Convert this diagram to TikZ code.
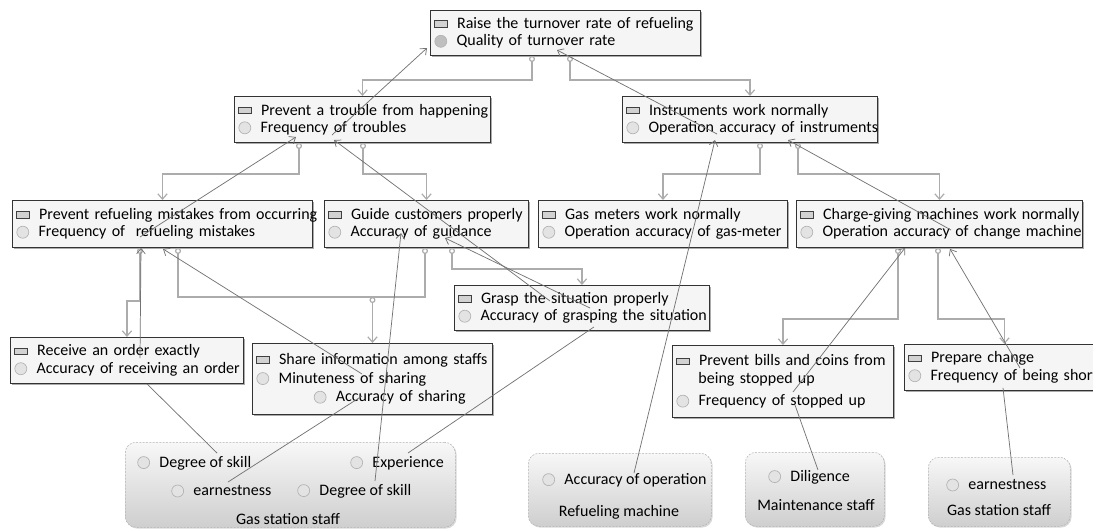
\documentclass[tikz,border=0pt]{standalone}
\usepackage{fontspec}
\setmainfont{Carlito}
\usetikzlibrary{arrows.meta,calc,shadows}

\newcommand{\goalicon}{\raisebox{0.8pt}{\begin{pgfpicture}
\pgfsetlinewidth{0.5pt}\pgfsetstrokecolor{black!75}\pgfsetfillcolor{gray!35}
\pgfpathrectangle{\pgfpointorigin}{\pgfpoint{9.5pt}{4.8pt}}
\pgfusepath{fill,stroke}\end{pgfpicture}}}
\newcommand{\metricicon}[1][gray!22]{\raisebox{-1.3pt}{\begin{pgfpicture}
\pgfsetlinewidth{0.5pt}\pgfsetstrokecolor{gray!60}\pgfsetfillcolor{#1}
\pgfpathcircle{\pgfpoint{4.7pt}{4.7pt}}{4.5pt}
\pgfusepath{fill,stroke}\end{pgfpicture}}}
\newcommand{\goal}[1]{\mbox{\goalicon\hspace{7pt}#1}}
\newcommand{\metric}[1]{\mbox{\metricicon\hspace{7.1pt}#1}}
\newcommand{\metricdark}[1]{\mbox{\metricicon[gray!50]\hspace{7.1pt}#1}}

\tikzset{
  kbox/.style={draw=black!80, line width=0.7pt, fill=gray!8, align=left,
    inner xsep=3pt, inner ysep=3pt, anchor=north west,
    drop shadow={shadow xshift=1.2pt, shadow yshift=-1.2pt, fill=black!55, opacity=0.6}},
  staffgroup/.style={draw=gray!60, dash pattern=on 1.5pt off 1pt, rounded corners=8pt,
    top color=gray!6, bottom color=gray!38, anchor=north west,
    drop shadow={shadow xshift=1pt, shadow yshift=-1pt, fill=black!30, opacity=0.5}},
  grpitem/.style={anchor=west, inner sep=0pt},
  treeedge/.style={draw=gray!65, line width=0.9pt,
    {Circle[open,length=4.5pt,fill=white]}-{Straight Barb[length=4pt,width=7pt]}},
  treebus/.style={draw=gray!65, line width=0.9pt, {Circle[open,length=4.5pt,fill=white]}-},
  metriclink/.style={draw=black!55, line width=0.55pt, -{Straight Barb[length=4pt,width=6.5pt]}},
  itemlink/.style={draw=black!55, line width=0.55pt}
}

\begin{document}
\begin{tikzpicture}[x=0.75pt, y=-0.75pt, font=\fontsize{12}{13}\selectfont]
\useasboundingbox (0,0) rectangle (1093,529);

% goals
\node[kbox, text width=196.5pt, minimum height=33.75pt] (top) at (430,10)
  {\goal{Raise the turnover rate of refueling}\\\metricdark{Quality of turnover rate}};

\node[kbox, text width=186pt, minimum height=34.5pt] (trouble) at (234,96)
  {\goal{Prevent a trouble from happening}\\\metric{Frequency of troubles}};
\node[kbox, text width=185.25pt, minimum height=34.5pt] (instr) at (622,96)
  {\goal{Instruments work normally}\\\metric{Operation accuracy of instruments}};

\node[kbox, text width=219pt, minimum height=35.25pt] (prevref) at (12,200)
  {\goal{Prevent refueling mistakes from occurring}\\\metric{Frequency of \ refueling mistakes}};
\node[kbox, text width=147pt, minimum height=35.25pt] (guide) at (324,200)
  {\goal{Guide customers properly}\\\metric{Accuracy of guidance}};
\node[kbox, text width=180.75pt, minimum height=35.25pt] (gasm) at (538,200)
  {\goal{Gas meters work normally}\\\metric{Operation accuracy of gas-meter}};
\node[kbox, text width=208.5pt, minimum height=35.25pt] (charge) at (796,200)
  {\goal{Charge-giving machines work normally}\\\metric{Operation accuracy of change machine}};

\node[kbox, text width=185.25pt, minimum height=33.75pt] (grasp) at (454,285)
  {\goal{Grasp the situation properly}\\\metric{Accuracy of grasping the situation}};
\node[kbox, text width=168.75pt, minimum height=34.5pt] (receive) at (10,337)
  {\goal{Receive an order exactly}\\\metric{Accuracy of receiving an order}};
\node[kbox, text width=174pt, minimum height=53.25pt] (share) at (252,343)
  {\goal{Share information among staffs}\\[1pt]\metric{Minuteness of sharing}\\[1pt]
   \hspace*{43pt}\metric{Accuracy of sharing}};
\node[kbox, text width=159.75pt, minimum height=54pt] (bills) at (672,345)
  {\goal{Prevent bills and coins from}\\\hspace*{16.5pt}being stopped up\\[4pt]
   \metric{Frequency of stopped up}};
\node[kbox, text width=144pt, minimum height=34.5pt] (prepare) at (904,344)
  {\goal{Prepare change}\\\metric{Frequency of being short}};

% staff groups
\node[staffgroup, minimum width=247.5pt, minimum height=63.75pt] (grpA) at (125,442) {};
\node[grpitem] (skillA) at (137,463) {\metric{Degree of skill}};
\node[grpitem] (expA) at (350,463) {\metric{Experience}};
\node[grpitem] (earnA) at (171,491) {\metric{earnestness}};
\node[grpitem] (skillB) at (297,491) {\metric{Degree of skill}};
\node (staffA) at (288,519) {Gas station staff};

\node[staffgroup, minimum width=137.25pt, minimum height=54.75pt] (grpB) at (528,453) {};
\node[grpitem] (oper) at (542,480) {\metric{Accuracy of operation}};
\node (machB) at (619,512) {Refueling machine};

\node[staffgroup, minimum width=104.25pt, minimum height=55.5pt] (grpC) at (745,452) {};
\node[grpitem] (dili) at (768,477) {\metric{Diligence}};
\node (maintC) at (816,505) {Maintenance staff};

\node[staffgroup, minimum width=106.5pt, minimum height=51.75pt] (grpD) at (928,457) {};
\node[grpitem] (earnB) at (946,485) {\metric{earnestness}};
\node (staffD) at (999,510) {Gas station staff};

% attach points
\coordinate (top-c1) at ($(top.south west)+(102,0)$);
\coordinate (top-c2) at ($(top.south west)+(140,0)$);
\coordinate (trb-c1) at ($(trouble.south west)+(65,0)$);
\coordinate (trb-c2) at ($(trouble.south west)+(129,0)$);
\coordinate (ins-c1) at ($(instr.south west)+(138,0)$);
\coordinate (ins-c2) at ($(instr.south west)+(176,0)$);
\coordinate (pr-c1) at ($(prevref.south west)+(128,0)$);
\coordinate (pr-c2) at ($(prevref.south west)+(166,0)$);
\coordinate (gd-c1) at ($(guide.south west)+(101,0)$);
\coordinate (gd-c2) at ($(guide.south west)+(128,0)$);
\coordinate (ch-c1) at ($(charge.south west)+(102,0)$);
\coordinate (ch-c2) at ($(charge.south west)+(142,0)$);
\coordinate (sharebus) at ($(share.north)+(0,-46)$);

\coordinate (top-m1) at ($(top.north west)+(-3,38)$);
\coordinate (top-m2) at ($(top.north west)+(127,40)$);
\coordinate (trb-m) at ($(trouble.north west)+(98,39)$);
\coordinate (trb-t1) at ($(trouble.north west)+(62,41)$);
\coordinate (trb-t2) at ($(trouble.north west)+(100,44)$);
\coordinate (ins-m) at ($(instr.north west)+(95,38)$);
\coordinate (ins-t1) at ($(instr.north west)+(93,44)$);
\coordinate (ins-t2) at ($(instr.north west)+(166,44)$);
\coordinate (pr-m) at ($(prevref.north west)+(128,37)$);
\coordinate (pr-t1) at ($(prevref.south west)+(129,0)$);
\coordinate (pr-t2) at ($(prevref.south west)+(151,1)$);
\coordinate (gd-t1) at ($(guide.north west)+(121,38)$);
\coordinate (gd-t2) at ($(guide.north west)+(77,33)$);
\coordinate (ch-m) at ($(charge.north west)+(155,30)$);
\coordinate (ch-t1) at ($(charge.south west)+(109,0)$);
\coordinate (ch-t2) at ($(charge.south west)+(154,1)$);
\coordinate (gr-m1) at ($(grasp.north west)+(96,16)$);
\coordinate (gr-m2) at ($(grasp.north west)+(136,23)$);
\coordinate (gr-t) at ($(grasp.south west)+(140,-4)$);
\coordinate (rc-m) at ($(receive.north west)+(130,21)$);
\coordinate (rc-t) at ($(receive.south west)+(137,0)$);
\coordinate (sh-m) at ($(share.north west)+(110,31)$);
\coordinate (sh-t) at ($(share.north west)+(110,53)$);
\coordinate (bl-m) at ($(bills.north west)+(121,47)$);
\coordinate (bl-t) at ($(bills.north west)+(123,60)$);
\coordinate (pp-m) at ($(prepare.north west)+(116,24)$);
\coordinate (pp-t) at ($(prepare.south west)+(99,-3)$);

\coordinate (skillA-s) at ($(skillA.west)+(80,-10)$);
\coordinate (earnA-s) at ($(earnA.west)+(57,-9)$);
\coordinate (skillB-s) at ($(skillB.west)+(78,-10)$);
\coordinate (expA-s) at ($(expA.west)+(58,-10)$);
\coordinate (oper-s) at ($(oper.west)+(92,-7)$);
\coordinate (dili-s) at ($(dili.west)+(50,-7)$);
\coordinate (earnB-s) at ($(earnB.west)+(67,-10)$);

% tree
\draw[treeedge] (top-c1) -- ++(0,24) -| (trouble.north);
\draw[treeedge] (top-c2) -- ++(0,24) -| (instr.north);
\draw[treeedge] (trb-c1) -- ++(0,31) -| (prevref.north);
\draw[treeedge] (trb-c2) -- ++(0,31) -| (guide.north);
\draw[treeedge] (ins-c1) -- ++(0,31) -| (gasm.north);
\draw[treeedge] (ins-c2) -- ++(0,31) -| (charge.north);
\draw[treeedge] (pr-c1) -- ++(0,53) -| (receive.north);
\draw[treebus] (pr-c2) |- (sharebus);
\draw[treebus] (gd-c1) |- (sharebus);
\draw[treeedge] (sharebus) -- (share.north);
\draw[treeedge] (gd-c2) -- ++(0,21) -| (grasp.north);
\draw[treeedge] (ch-c1) -- ++(0,71) -| (bills.north);
\draw[treeedge] (ch-c2) -- ++(0,71) -| (prepare.north);

% links
\draw[metriclink] (trb-m) -- (top-m1);
\draw[metriclink] (ins-m) -- (top-m2);
\draw[metriclink] (pr-m) -- (trb-t1);
\draw[metriclink] (gr-m1) -- (trb-t2);
\draw[metriclink] (gr-m2) -- (gd-t1);
\draw[metriclink] (oper-s) -- (ins-t1);
\draw[metriclink] (ch-m) -- (ins-t2);
\draw[metriclink] (rc-m) -- (pr-t1);
\draw[metriclink] (sh-m) -- (pr-t2);
\draw[metriclink] (bl-m) -- (ch-t1);
\draw[metriclink] (pp-m) -- (ch-t2);
\draw[metriclink] (skillB-s) -- (gd-t2);
\draw[itemlink] (skillA-s) -- (rc-t);
\draw[itemlink] (earnA-s) -- (sh-t);
\draw[itemlink] (expA-s) -- (gr-t);
\draw[itemlink] (dili-s) -- (bl-t);
\draw[itemlink] (earnB-s) -- (pp-t);

\end{tikzpicture}
\end{document}
